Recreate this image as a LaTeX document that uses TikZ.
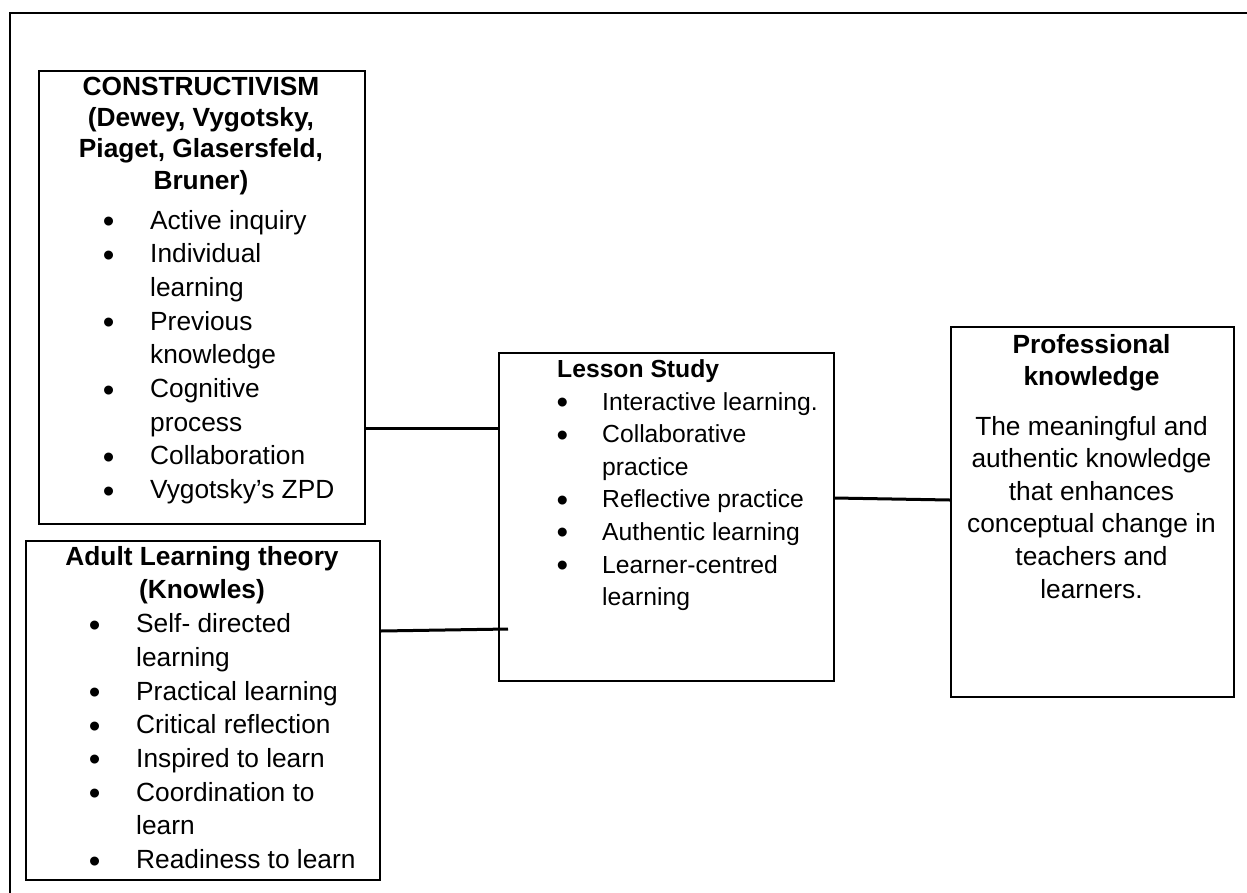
\documentclass[tikz,border=0pt]{standalone}
\usepackage{fontspec}
\setmainfont{Liberation Sans}
\newcommand{\bodyfont}{\fontsize{26.3}{33.7}\selectfont}
\newcommand{\boldfont}{\fontsize{26.3}{32}\selectfont\bfseries}
\newcommand{\smallbody}{\fontsize{24.7}{32.6}\selectfont}
\newcommand{\dotmark}{\raisebox{-3.5pt}{\fontsize{33}{33}\selectfont\textbullet}}
\newcommand{\itm}{\llap{\dotmark\hspace{35.8pt}}}
\newcommand{\smallitm}{\llap{\dotmark\hspace{34pt}}}
\tikzset{
  panel/.style={draw, line width=1.6pt, anchor=north west, inner sep=0pt},
  link/.style={line width=3pt},
  heading/.style={font=\boldfont, align=center, anchor=base, inner sep=0pt},
  items/.style={font=\bodyfont, align=left, anchor=base west, inner sep=0pt}
}

\begin{document}
\begin{tikzpicture}[x=1pt,y=-1pt]
\useasboundingbox (0,0) rectangle (1247,892);
\draw[line width=2pt] (1260,13)--(10,13)--(10,900);
% boxes
\node[panel, minimum width=326pt, minimum height=453pt] (cons) at (38,70) {};
\node[panel, minimum width=354pt, minimum height=339pt] (adult) at (25,540) {};
\node[panel, minimum width=335pt, minimum height=328pt] (lesson) at (498,352) {};
\node[panel, minimum width=283pt, minimum height=370pt] (prof) at (950,326) {};
% texts (placed at the baseline of their last line)
\node[heading, font={\fontsize{26.3}{31.3}\selectfont\bfseries}] (consHead) at (201,189) {CONSTRUCTIVISM\\(Dewey, Vygotsky,\\Piaget, Glasersfeld,\\Bruner)};
\node[items] (consList) at (150,498.6) {\itm Active inquiry\\\itm Individual\\learning\\\itm Previous\\knowledge\\\itm Cognitive\\process\\\itm Collaboration\\\itm Vygotsky’s ZPD};
\node[heading, font={\fontsize{26.3}{33}\selectfont\bfseries}] (adultHead) at (202,598) {Adult Learning theory\\(Knowles)};
\node[items] (adultList) at (136,868.5) {\itm Self- directed\\learning\\\itm Practical learning\\\itm Critical reflection\\\itm Inspired to learn\\\itm Coordination to\\learn\\\itm Readiness to learn};
\node[heading, anchor=base west, font={\fontsize{24.7}{32.6}\selectfont\bfseries}] (lessonHead) at (557,377) {Lesson Study};
\node[items, font=\smallbody] (lessonList) at (602,605.6) {\smallitm Interactive learning.\\\smallitm Collaborative\\practice\\\smallitm Reflective practice\\\smallitm Authentic learning\\\smallitm Learner-centred\\learning};
\node[heading] (profHead) at (1091.5,385) {Professional\\knowledge};
\node[heading, font={\fontsize{26.3}{32.6}\selectfont}] (profText) at (1091.5,598) {The meaningful and\\authentic knowledge\\that enhances\\conceptual change in\\teachers and\\learners.};
% connectors
\coordinate (l2) at ([xshift=10pt]lesson.west);
\draw[link] (cons.east |- 0,428) -- (lesson.west |- 0,428);
\draw[link] (adult.east |- 0,631) -- (l2 |- 0,629);
\draw[link] (lesson.east |- 0,498) -- (prof.west |- 0,500);
\end{tikzpicture}
\end{document}
